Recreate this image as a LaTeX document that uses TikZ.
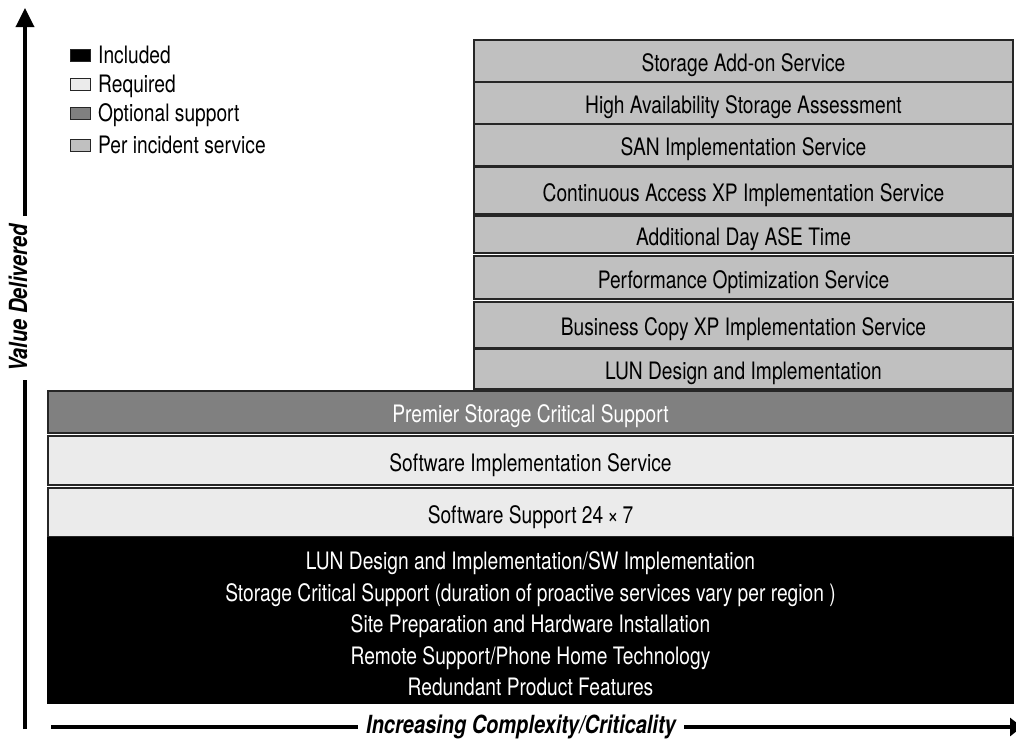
\documentclass[tikz,border=0pt]{standalone}
\usepackage{fontspec}
\setmainfont{TeX Gyre Heros}[FakeStretch=0.80]
\usepackage{xcolor}
\usepackage{tikz}
\usetikzlibrary{arrows.meta}
\definecolor{incgray}{HTML}{C0C0C0}
\definecolor{optgray}{HTML}{808080}
\definecolor{reqgray}{HTML}{EBEBEB}

\begin{document}
\begin{tikzpicture}[x=1pt,y=-1pt,
  txt/.style={font=\fontsize{24}{31.5}\selectfont},
  tier/.style={draw=black!85,line width=1.2pt,inner sep=0pt,txt},
  oneline/.style={text height=21pt,text depth=0pt},
  addon/.style={tier,oneline,fill=incgray,minimum width=539pt},
  basetier/.style={tier,minimum width=965pt},
  keybox/.style={draw=black!85,line width=1pt,minimum width=20pt,minimum height=12pt,inner sep=0pt},
  axis/.style={line width=3.5pt},
  axislabel/.style={font=\fontsize{25}{26}\selectfont\bfseries\itshape,inner xsep=8pt,inner ysep=0pt}]
\useasboundingbox (0,0) rectangle (1016,740);

% per incident services
\foreach \name/\top/\bot/\label in {
  storage/40/82/Storage Add-on Service,
  haa/82/124/High Availability Storage Assessment,
  san/124/166/SAN Implementation Service,
  cxp/167/214/Continuous Access XP Implementation Service,
  ase/216/253/Additional Day ASE Time,
  perf/256/299/Performance Optimization Service,
  bcxp/302/348/Business Copy XP Implementation Service,
  lun/349/389/LUN Design and Implementation}
\node[addon,minimum height={(\bot-\top)*1pt}] (\name) at (743.5,{(\top+\bot)/2}) {\label};

% base tiers
\node[basetier,oneline,fill=optgray,text=white,minimum height=42pt] (premier) at (530.5,412) {Premier Storage Critical Support};
\node[basetier,oneline,fill=reqgray,minimum height=49pt] (swimpl) at (530.5,460.5) {Software Implementation Service};
\node[basetier,oneline,fill=reqgray,minimum height=49pt] (swsupp) at (530.5,512.5) {Software Support 24\,×\,7};
\node[basetier,fill=black,draw=black,text=white,align=center,text depth=0pt,minimum height=165pt] (included) at (530.5,620.5)
  {\rule{0pt}{24pt}LUN Design and Implementation/SW Implementation\\
   Storage Critical Support (duration of proactive services vary per region )\\
   Site Preparation and Hardware Installation\\
   Remote Support/Phone Home Technology\\
   Redundant Product Features};

% legend
\foreach \name/\y/\col/\label in {inc/55/black/Included, req/84/reqgray/Required,
  opt/113/optgray/Optional support, per/145/incgray/Per incident service}
{
\node[keybox,fill=\col] (key-\name) at (80,\y) {};
\node[txt,anchor=west,inner sep=0pt,text depth=0pt] (lbl-\name) at (98,\y) {\label};
}

% axes
\coordinate (yfoot) at (25,729);
\coordinate (ytop) at (25,8);
\node[axislabel,rotate=90] (vdeliv) at (18,298) {Value Delivered};
\draw[axis] (yfoot) -- (yfoot |- vdeliv.west);
\draw[axis,-{Triangle[length=19pt,width=18pt]}] (yfoot |- vdeliv.east) -- (ytop);

\coordinate (xfoot) at (51,727);
\coordinate (xtip) at (1022,727);
\node[axislabel] (xcomp) at (521,727) {Increasing Complexity/Criticality};
\draw[axis] (xfoot) -- (xcomp.west);
\draw[axis,-{Triangle[length=12pt,width=18pt]}] (xcomp.east) -- (xtip);
\end{tikzpicture}
\end{document}
